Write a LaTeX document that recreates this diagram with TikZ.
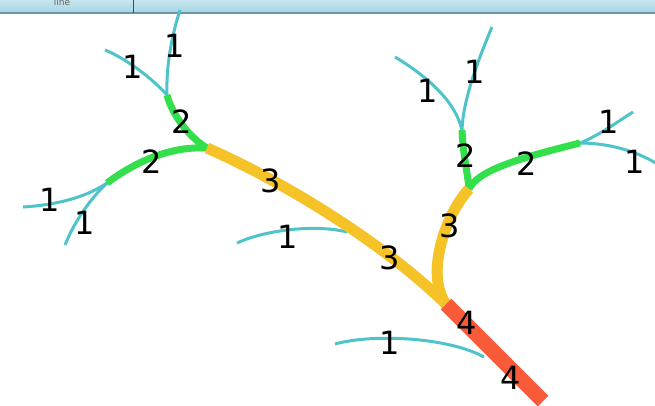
\documentclass[tikz,border=0pt]{standalone}
\usepackage{fontspec}
\setmainfont{DejaVu Sans}
\begin{document}
\begin{tikzpicture}[x=1pt,y=-1pt,
  ord1/.style={draw=cOne,line width=3pt,line cap=butt},
  ord2/.style={draw=cTwo,line width=7pt,line cap=butt},
  ord3/.style={draw=cThree,line width=11pt,line cap=butt},
  ord4/.style={draw=cFour,line width=15pt,line cap=butt},
  lbl/.style={font=\fontsize{32}{32}\selectfont,text=black,inner sep=0pt}]
\definecolor{cOne}{HTML}{4EC4CA}
\definecolor{cTwo}{HTML}{33E04C}
\definecolor{cThree}{HTML}{F5C228}
\definecolor{cFour}{HTML}{F85A3A}
\definecolor{barTop}{HTML}{C6E6F0}
\definecolor{barBot}{HTML}{A4D4E3}
\definecolor{barEdge}{HTML}{6A97A6}
\useasboundingbox (0,0) rectangle (655,405);
\clip (0,0) rectangle (655,405);
\fill[white] (0,0) rectangle (655,405);

% toolbar strip along the top edge
\shade[top color=barTop,bottom color=barBot] (0,0) rectangle (655,13);
\draw[barEdge,line width=1.5pt] (0,13) -- (655,13);
\draw[black!70,line width=0.8pt] (133,0) -- (133,13);
\node[font=\fontsize{9}{9}\selectfont,text=black!60,inner sep=0pt] (tab) at (62,2) {line};

% junctions and channel ends
\coordinate (outlet) at (543,401);
\coordinate (J4) at (446,304);
\coordinate (J3L) at (207,148);
\coordinate (J3R) at (469,189);
\coordinate (J2a) at (167,95);
\coordinate (J2b) at (107,183);
\coordinate (J2c) at (462,130);
\coordinate (J2d) at (580,143);
\coordinate (s1) at (180,10);
\coordinate (s2) at (105,50);
\coordinate (s3) at (23,207);
\coordinate (s4) at (65,245);
\coordinate (s5) at (237,243);
\coordinate (m5) at (347,232);
\coordinate (s6) at (335,344);
\coordinate (m6) at (484,357);
\coordinate (s7) at (492,27);
\coordinate (s8) at (395,57);
\coordinate (s9) at (633,112);
\coordinate (s10) at (662,167);

% first-order channels
\draw[ord1] (J2a) .. controls (166,65) and (172,35) .. (s1);
\draw[ord1] (s2) .. controls (125,58) and (152,78) .. (J2a);
\draw[ord1] (s3) .. controls (55,205) and (85,198) .. (J2b);
\draw[ord1] (s4) .. controls (75,220) and (92,197) .. (J2b);
\draw[ord1] (s5) .. controls (265,230) and (315,224) .. (m5);
\draw[ord1] (s6) .. controls (375,333) and (450,338) .. (m6);
\draw[ord1] (J2c) .. controls (463,100) and (478,60) .. (s7);
\draw[ord1] (s8) .. controls (425,75) and (455,100) .. (J2c);
\draw[ord1] (J2d) .. controls (600,135) and (620,120) .. (s9);
\draw[ord1] (J2d) .. controls (610,143) and (640,152) .. (s10);

% second-order channels
\draw[ord2] (J2a) .. controls (172,115) and (190,138) .. (J3L);
\draw[ord2] (J2b) .. controls (135,162) and (170,146) .. (J3L);
\draw[ord2] (J2c) .. controls (463,155) and (468,175) .. (J3R);
\draw[ord2] (J3R) .. controls (478,170) and (520,158) .. (J2d);

% third-order channels
\draw[ord3] (J3L) .. controls (280,180) and (380,240) .. (J4);
\draw[ord3] (J3R) .. controls (445,215) and (425,275) .. (J4);

% fourth-order trunk
\draw[ord4] (J4) -- (outlet);

% stream order labels
\node[lbl] (l1a) at (175,46) {1};
\node[lbl] (l1b) at (133,67) {1};
\node[lbl] (l2a) at (182,122) {2};
\node[lbl] (l2b) at (152,162) {2};
\node[lbl] (l1c) at (50,200) {1};
\node[lbl] (l1d) at (85,223) {1};
\node[lbl] (l3a) at (271,181) {3};
\node[lbl] (l3b) at (390,258) {3};
\node[lbl] (l3c) at (450,226) {3};
\node[lbl] (l1e) at (288,237) {1};
\node[lbl] (l1f) at (390,343) {1};
\node[lbl] (l4a) at (467,323) {4};
\node[lbl] (l4b) at (511,378) {4};
\node[lbl] (l1g) at (428,91) {1};
\node[lbl] (l1h) at (475,72) {1};
\node[lbl] (l2c) at (466,156) {2};
\node[lbl] (l2d) at (527,164) {2};
\node[lbl] (l1i) at (609,122) {1};
\node[lbl] (l1j) at (635,162) {1};
\end{tikzpicture}
\end{document}
